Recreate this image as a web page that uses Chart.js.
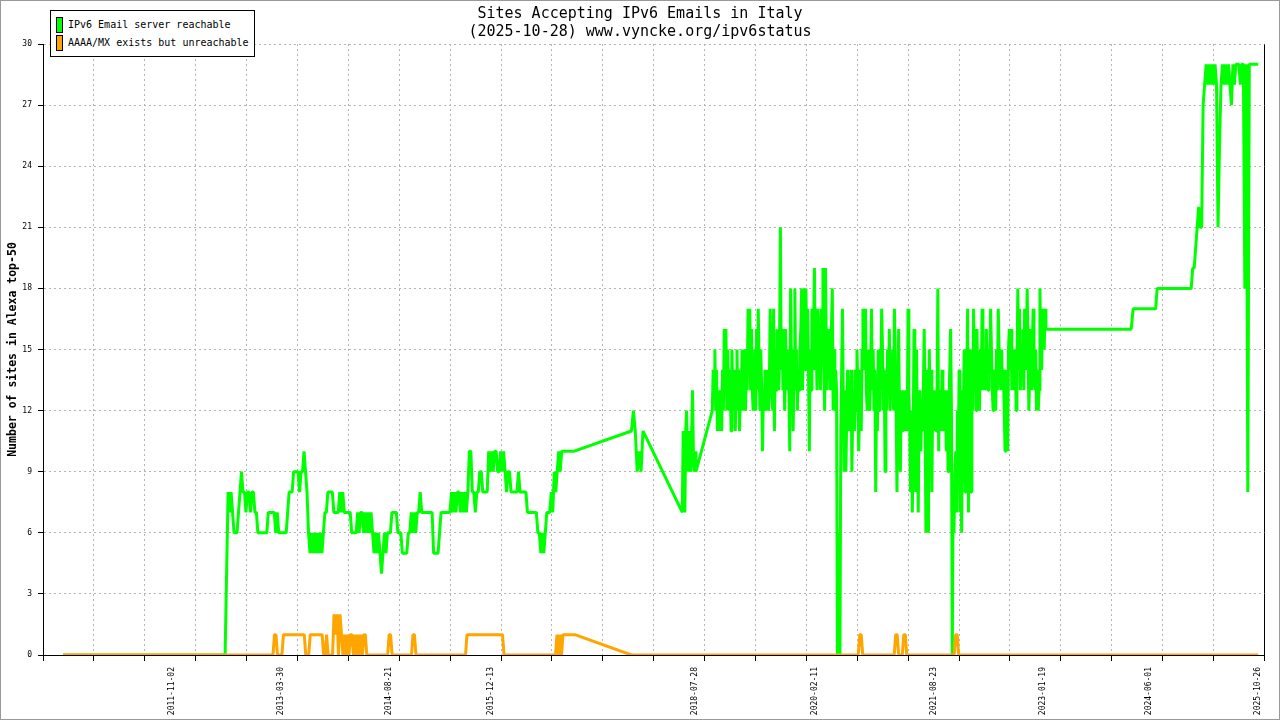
<!DOCTYPE html>
<html>
<head>
<meta charset="utf-8">
<title>Sites Accepting IPv6 Emails in Italy</title>
<script src="https://cdn.jsdelivr.net/npm/chart.js@4.4.1/dist/chart.umd.min.js"></script>
<style>
	body { margin: 0; background: #fff; }
	#wrap { position: relative; width: 1280px; height: 720px; font-family: "DejaVu Sans Mono", monospace; color: #000; }
	#frame { position: absolute; left: 0; top: 0; width: 1280px; height: 720px; box-sizing: border-box; border: 1px solid #999; pointer-events: none; }
	#title { position: absolute; left: 0; top: 4px; width: 1280px; text-align: center; font-size: 15px; line-height: 18px; }
	#legend { position: absolute; left: 50px; top: 10px; width: 205px; height: 47px; box-sizing: border-box; border: 1px solid #000; background: #fff; font-size: 10px; }
	.item { position: absolute; left: 5px; height: 16px; line-height: 16px; white-space: nowrap; }
	.sw { display: inline-block; width: 7px; height: 16px; box-sizing: border-box; border: 1px solid #000; vertical-align: top; margin-right: 5px; }
</style>
</head>
<body>
<div id="wrap">
	<canvas id="chart" width="1280" height="720"></canvas>
	<div id="title">Sites Accepting IPv6 Emails in Italy<br>(2025-10-28) www.vyncke.org/ipv6status</div>
	<div id="legend">
		<div class="item" style="top:6px"><span class="sw" style="background:#00ff00"></span>IPv6 Email server reachable</div>
		<div class="item" style="top:24px"><span class="sw" style="background:#ffa500"></span>AAAA/MX exists but unreachable</div>
	</div>
	<div id="frame"></div>
</div>
<script>
// x axis labels (dates)
const xLabels = ["2011-11-02", "2013-03-30", "2014-08-21", "2015-12-13", "2018-07-28",
	"2020-02-11", "2021-08-23", "2023-01-19", "2024-06-01", "2025-10-26"];
const xStart = "2010-03-07";
const xEnd = "2025-11-24";

// series are stored as runs: [first date, days between samples, values]
const reachable = [
	["2010-06-09", 7, [0]],
	["2012-07-10", 7, [0]],
	["2012-07-17", 7, [
		4,8,7,8,7,6,6,6,7,8, 9,8,8,7,8,8,7,8,8,7, 7,6,6,6,6,6,6,6,7,7, 7,7,7,6,7,6,6,6,6,6,
		6,7,8,8,8,9,9,9,9,8, 9,9,10,9,8,6,5,6,5,6, 5,6,5,6,5,6,7,7,8,8, 8,8,7,7,7,7,8,7,8,7,
		7,7,7,7,6,6,6,6,7,6, 7,7,6,7,6,7,6,7,6,5, 6,5,6,5,4,5,6,5,6,6, 6,7,7,7,7,6,6,6,5,5,
		5,5,6,6,7,6,7,6,7,7, 8,7,7,7,7,7,7,7,7,5, 5,5,5,6,7,7,7,7,7,7, 7,8,7,8,7,8,8,7,8,7,
		8,7,8,10,10,8,8,7,8,8, 9,9,8,8,8,8,10,9,10,9, 10,10,9,9,10,9,10,9,8,9, 9,8,8,8,8,8,9,8,8,8,
		8,8,7,7,7,7,7,7,7,6, 6,5,6,5,6,7,7,7,8,7, 9,8,9,10,9,10,10,10,10,10, 10,10,10,10]],
	["2017-10-02", 9, [11,12,11,9,10,9,11]],
	["2018-05-29", 4, [7,11,9,7,11,12,10,9,11,10,9,11,13,10,9,10,9]],
	["2018-10-17", 4, [
		12,14,13,15,12,14,11,13,12,11, 13,11,14,12,16,13,16,12,15,13, 12,14,11,15,13,12,14,11,13,15,
		12,14,11,13,12,15,13,12,15,12, 14,13,17,15,17,13,16,13,12,14, 15,12,16,13,17,14,12,15,13,10,
		13,12,14,12,13,14,12,13,17,14, 13,12,17,11,15,13,16,14,13,15, 21,14,16,13,15,12,16,14,13,15,
		13,10,18,14,15,11,14,18,13,15, 12,14,13,15,16,18,13,16,18,14, 18,15,17,14,10,15,13,17,14,16,
		19,14,16,13,17,14,15,13,17,15, 19,14,12,19,15,13,16,14,15,13, 16,18,12,15,12,14,13,0,6,5,
		0,11,14,17,12,9,13,9,12,14, 11,13,12,14,9,12,13,11,14,12, 15,13,10,12,14,11,15,17,14,16,
		17,13,12,15,13,12,14,17,13,15, 12,14,8,13,11,15,12,14,13,17, 15,12,14,9,13,12,15,13,16,12,
		14,13,15,12,17,14,12,8,13,16, 11,9,13,11,12,13,11,12,13,11, 17,13,11,8,12,7,10,16,12,8,
		15,11,7,12,13,10,12,11,13,16, 12,6,11,14,6,15,12,14,8,13, 11,12,13,11,12,18,10,13,12,11,
		14,12,11,13,12,10,13,9,12,14, 16,12,0,8,6,9,10,7,12,9, 14,7,10,6,13,12,15,8,14,13,
		17,7,13,15,8,14,12,17,13,16, 12,16,13,14,12,15,13,17,14,13, 15,13,16,14,13,15,14,17,15,13,
		12,14,13,12,15,13,17,15,14,13, 15,13,14,12,10,14,13,10,15,16, 14,16,13,15,14,13,15,12,14,18,
		14,17,13,15,14,16,13,17,14,15, 18,15,12,14,16,13,15,17,14,13, 15,12,14,12,13,18,15,14,17,16,
		15,17,16]],
	["2024-03-08", 9, [16,17]],
	["2024-07-01", 7, [17,18]],
	["2024-12-15", 7, [
		18,19,19,20,21,22,21,21,27,28, 29,28,29,28,29,28,29,28,21,25, 28,29,28,29,28,29,28,27,29,28,
		29,29,29,28,29,29,18,29,8,29, 29,29,29,29,29,29]]
];

const unreachable = [
	["2010-06-09", 7, [0]],
	["2013-02-13", 7, [
		0,0,1,1,0,0,0,0,1,1, 1,1,1,1,1,1,1,1,1,1, 1,1,1,0,0,0,1,1,1,1, 1,1,1,1,1,0,0,1,0,0,
		0,0,2,1,2,0,2,1,0,1, 0,1,0,1,1,0,1,0,1,0, 1,0,1,1,0,0]],
	["2014-08-13", 7, [0,1,1,0]],
	["2014-12-03", 7, [0,1,1,0]],
	["2015-08-14", 7, [0,1]],
	["2016-02-04", 7, [1,0]],
	["2016-10-10", 7, [0,1,0,1,0,1,1,1,1,1,1,1,1,1]],
	["2017-10-02", 7, [0]],
	["2020-09-02", 7, [0,1,1,0]],
	["2021-02-18", 7, [0,1,1,0]],
	["2021-03-28", 7, [0,1,1,0]],
	["2021-11-27", 7, [0,1,1,0]],
	["2025-10-26", 7, [0]]
];

// days since 2010-01-01
function toDay(s) {
	const p = s.split("-").map(Number);
	return (Date.UTC(p[0], p[1] - 1, p[2]) - Date.UTC(2010, 0, 1)) / 864e5;
}

function expand(runs) {
	const pts = [];
	runs.forEach((r) => {
		const d0 = toDay(r[0]);
		r[2].forEach((v, i) => pts.push({ x: d0 + i * r[1], y: v }));
	});
	return pts;
}

const X_MIN = toDay(xStart);
const X_MAX = toDay(xEnd);
const GRID_DIV = 24;
const gridGray = "#b4b4b4";
const clear = "rgba(0,0,0,0)";

Chart.defaults.font.family = "'DejaVu Sans Mono', monospace";
Chart.defaults.color = "#000";

const chart = new Chart(document.getElementById("chart"), {
	type: "line",
	data: {
		datasets: [
			{
				label: "IPv6 Email server reachable",
				data: expand(reachable),
				borderColor: "#00ff00",
				borderWidth: 3,
				borderJoinStyle: "bevel",
				pointRadius: 0,
				tension: 0,
				fill: false,
				order: 1,
			},
			{
				label: "AAAA/MX exists but unreachable",
				data: expand(unreachable),
				borderColor: "#ffa500",
				borderWidth: 3,
				borderJoinStyle: "bevel",
				pointRadius: 0,
				tension: 0,
				fill: false,
				order: 0,
			},
		],
	},
	options: {
		responsive: false,
		animation: false,
		events: [],
		layout: {
			padding: { top: 44, right: 15, left: 0, bottom: 0 },
		},
		plugins: {
			legend: { display: false },
			tooltip: { enabled: false },
		},
		scales: {
			x: {
				type: "linear",
				min: X_MIN,
				max: X_MAX,
				afterBuildTicks: (scale) => {
					const ticks = [];
					for (let i = 0; i <= GRID_DIV; i++) {
						ticks.push({ value: X_MIN + (i * (X_MAX - X_MIN)) / GRID_DIV, grid: i });
					}
					xLabels.forEach((s) => ticks.push({ value: toDay(s), text: s }));
					ticks.sort((a, b) => a.value - b.value);
					scale.ticks = ticks;
				},
				afterFit: (scale) => {
					scale.height = 65;
				},
				ticks: {
					autoSkip: false,
					minRotation: 90,
					maxRotation: 90,
					padding: 6,
					font: { size: 8 },
					callback: (v, i, ticks) => ticks[i].text || "",
				},
				grid: {
					tickLength: 6,
					color: (ctx) => {
						const t = ctx.tick;
						if (!t || t.text || t.grid === 0) return clear;
						if (t.grid === GRID_DIV) return "#000";
						return gridGray;
					},
					tickColor: (ctx) => (ctx.tick && ctx.tick.text ? clear : "#000"),
				},
				border: {
					color: "#000",
					width: 1,
					dash: (ctx) => (ctx.tick && ctx.tick.grid === GRID_DIV ? [] : [2, 3]),
				},
			},
			y: {
				min: 0,
				max: 30,
				afterFit: (scale) => {
					scale.width = 43;
				},
				ticks: {
					stepSize: 3,
					padding: 6,
					font: { size: 8 },
				},
				grid: {
					tickLength: 5,
					color: gridGray,
					tickColor: "#000",
				},
				border: {
					color: "#000",
					width: 1,
					dash: [2, 3],
				},
				title: {
					display: true,
					text: "Number of sites in Alexa top-50",
					font: { size: 11.5, weight: "bold" },
					padding: { top: 6, bottom: 0 },
				},
			},
		},
	},
});
</script>
</body>
</html>
